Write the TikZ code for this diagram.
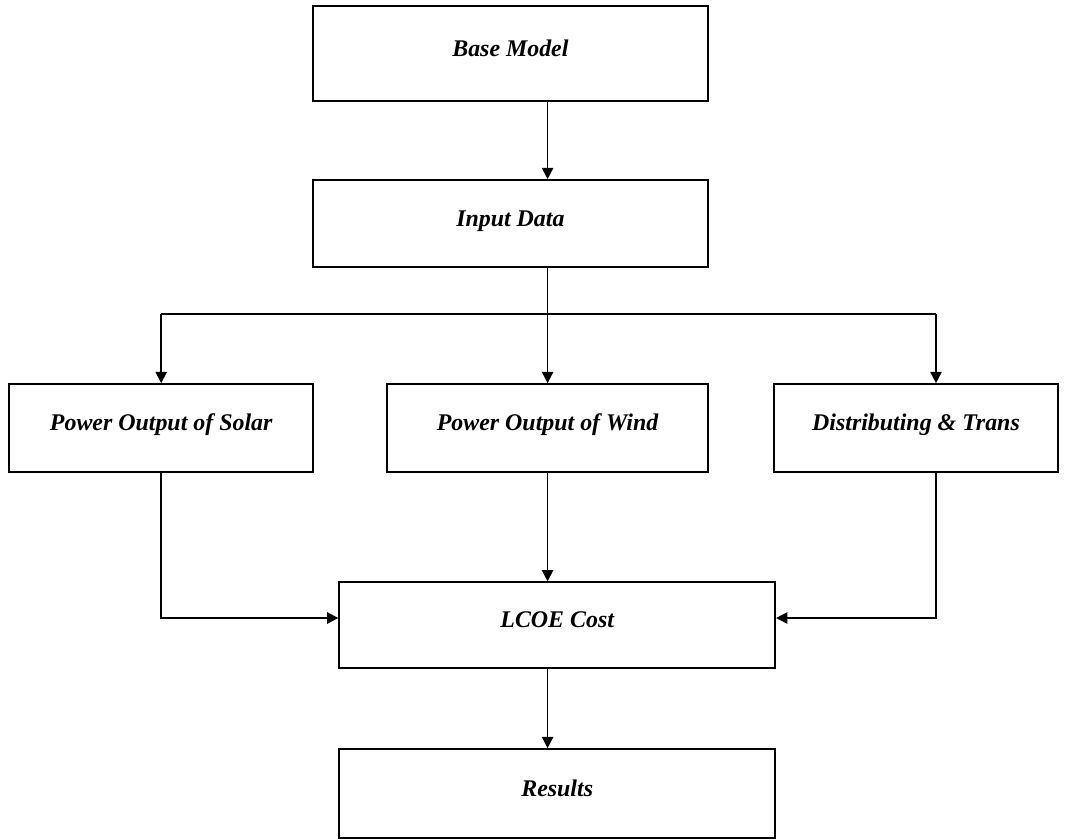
\documentclass[tikz,border=0pt]{standalone}
\usepackage{fontspec}
\setmainfont{Liberation Serif}
\usepackage{tikz}
\usetikzlibrary{arrows.meta, positioning}

\begin{document}
\begin{tikzpicture}[
    box/.style={draw, rectangle, line width=1.2pt, minimum height=2.2cm, align=center, text height=0.45cm, text depth=0.33cm, font=\fontsize{17}{20}\selectfont\bfseries\itshape, inner sep=2pt},
    arr/.style={-{Triangle[length=2.8mm, width=2.8mm]}, line width=1.2pt},
    line/.style={line width=1.2pt}]
    \useasboundingbox (0,0) rectangle (26.7,-20.975);
    \node[box, minimum width=9.88cm, minimum height=2.38cm] (base) at (12.76,-1.34) {Base Model};
    \node[box, minimum width=9.88cm, minimum height=2.18cm] (input) at (12.76,-5.59) {Input Data};
    \node[box, minimum width=7.6cm] (solar) at (4.03,-10.7) {Power Output of Solar};
    \node[box, minimum width=8.03cm] (wind) at (13.69,-10.7) {Power Output of Wind};
    \node[box, minimum width=7.1cm] (trans) at (22.9,-10.7) {Distributing \& Trans};
    \node[box, minimum width=10.9cm, minimum height=2.15cm] (lcoe) at (13.93,-15.63) {LCOE Cost};
    \node[box, minimum width=10.9cm, minimum height=2.23cm] (res) at (13.93,-19.84) {Results};
    \coordinate (bus) at (13.69,-7.85);
    \coordinate (tin) at ([xshift=5mm]trans.north);
    \coordinate (tout) at ([xshift=5mm]trans.south);
    \draw[arr] (base.south -| wind.north) -- (input.north -| wind.north);
    \draw[arr] (input.south -| wind.north) -- (wind.north);
    \draw[line] (bus -| solar.north) -- (bus -| tin);
    \draw[arr] (bus -| solar.north) -- (solar.north);
    \draw[arr] (bus -| tin) -- (tin);
    \draw[arr] (solar.south) |- ([yshift=1.8mm]lcoe.west);
    \draw[arr] (wind.south) -- (lcoe.north -| wind.south);
    \draw[arr] (tout) |- ([yshift=1.8mm]lcoe.east);
    \draw[arr] (lcoe.south -| wind.south) -- (res.north -| wind.south);
\end{tikzpicture}
\end{document}
